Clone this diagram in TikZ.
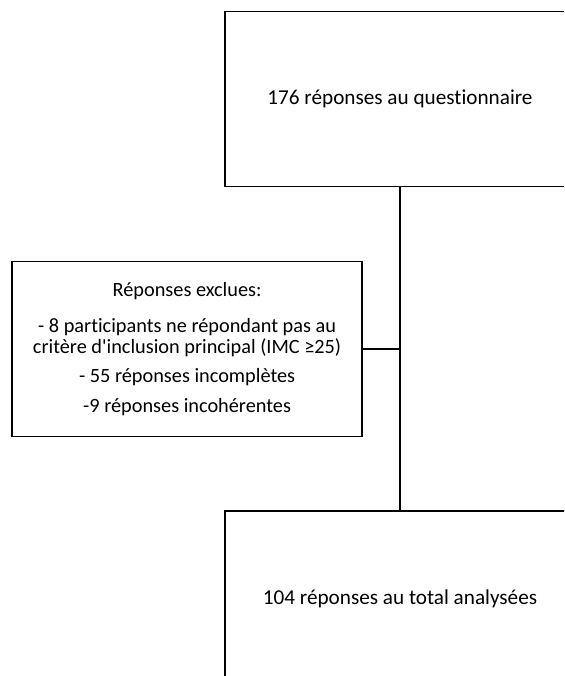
\documentclass[tikz,border=0pt]{standalone}
\usepackage{fontspec}
\setmainfont[Ligatures={TeX,NoCommon}]{Carlito}
\usepackage{tikz}
\usetikzlibrary{positioning,calc}

\begin{document}
\begin{tikzpicture}[
        x=1pt, y=1pt,
        node distance=323pt,
        box/.style={draw, line width=1.8pt, align=center, inner sep=0pt},
        big/.style={box, minimum width=350pt, minimum height=175pt,
            font=\fontsize{21.2}{25}\selectfont},
        link/.style={line width=1.8pt}
    ]
    \useasboundingbox (0,0) rectangle (564,-676);
    \begin{scope}
    \clip (0,0) rectangle (564,-676);
    \node[big] (Q) at (400,-99) {176 réponses au questionnaire};
    \node[big] (T) [below=of Q] {104 réponses au total analysées};
    \coordinate (J) at ($(Q.south)!0.5!(T.north)$);
    \node[box, minimum width=350pt, minimum height=175pt,
          font=\fontsize{20.3}{21}\selectfont] (E) [left=37pt of J]
        {Réponses exclues:\\[15pt]
         - 8 participants ne répondant pas au\\
         critère d\textquotesingle inclusion principal (IMC ≥25)\\[8pt]
         - 55 réponses incomplètes\\[9pt]
         -9 réponses incohérentes};

    % liaisons
    \draw[link] (Q) -- (T);
    \draw[link] (E) -- (J);
    \end{scope}
\end{tikzpicture}
\end{document}
